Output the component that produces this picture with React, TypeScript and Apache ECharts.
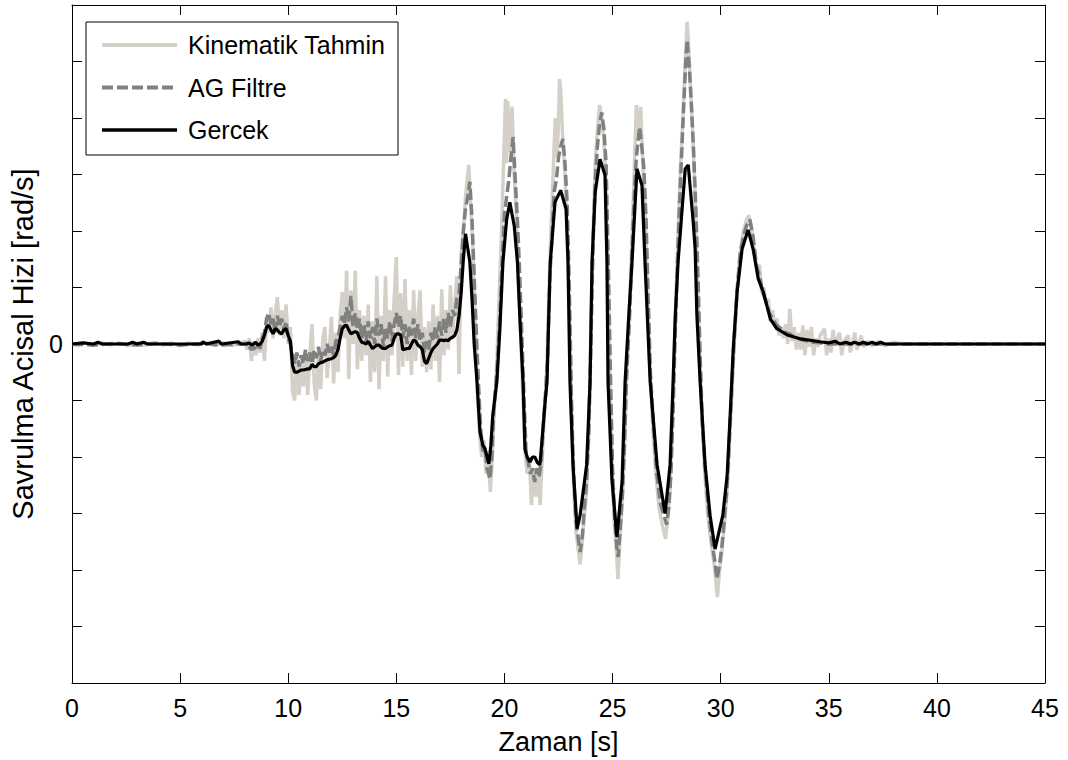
import React, { useEffect, useRef } from "react";
import * as echarts from "echarts";

// ---- Data ----
const xTicks = [0, 5, 10, 15, 20, 25, 30, 35, 40, 45];
const seriesNames = ["Kinematik Tahmin", "AG Filtre", "Gercek"];
const seriesColors = ["#d4d0c8", "#808080", "#000000"];

// sampling grid for the noisy 8..18 s segment (0.1 s step)
const noiseStart = 8.0;
const noiseStep = 0.1;

// Gercek (true) signal
const gercekEarly: [number, number][] = [
  [0, 0], [0.5, 0.02], [1.0, 0], [1.2, 0.03], [1.4, 0], [2.6, 0], [2.8, 0.03], [3.0, 0],
  [3.3, 0.03], [3.5, 0], [6.0, 0], [6.05, 0.04], [6.2, 0], [6.8, 0.05], [6.9, 0], [7.7, 0.04], [7.8, 0],
];
const gercekNoise: number[] = [
  0, 0, 0.02, -0.02, 0, 0.03, -0.02, 0, 0.05, 0.15,
  0.3, 0.33, 0.25, 0.18, 0.27, 0.25, 0.2, 0.18, 0.25, 0.27,
  0.15, 0.05, -0.38, -0.5, -0.5, -0.48, -0.46, -0.46, -0.45, -0.44,
  -0.44, -0.36, -0.4, -0.4, -0.35, -0.33, -0.32, -0.3, -0.28, -0.27,
  -0.26, -0.24, -0.2, -0.1, 0.1, 0.27, 0.32, 0.33, 0.25, 0.18,
  0.2, 0.22, 0.2, 0.1, 0.03, 0.02, 0, 0.05, -0.02, -0.08,
  -0.05, -0.02, -0.02, -0.06, -0.08, -0.08, -0.05, -0.03, -0.02, 0.1,
  0.18, 0.18, 0.16, -0.1, -0.09, -0.08, -0.08, 0, 0.07, 0.05,
  -0.02, -0.05, -0.1, -0.3, -0.35, -0.25, -0.15, -0.08, -0.04, 0,
  0.07, 0.07, 0.06, 0.07, 0.06, 0.1, 0.12, 0.15, 0.25, 0.5,
  0.92,
];
const gercekLate: [number, number][] = [
  [18.1, 1.5], [18.2, 1.95], [18.3, 1.7], [18.4, 1.45], [18.5, 0.8], [18.6, 0.0], [18.73, -0.67],
  [18.87, -1.56], [19.0, -1.79], [19.1, -1.85], [19.2, -2.0], [19.28, -2.12], [19.37, -1.8],
  [19.46, -1.26], [19.65, -0.67], [19.78, 0.2], [19.93, 1.45], [20.1, 2.2], [20.25, 2.51],
  [20.35, 2.3], [20.45, 2.1], [20.6, 1.45], [20.72, 0.4], [20.86, -0.67], [20.95, -1.86],
  [21.05, -2.0], [21.18, -2.09], [21.3, -2.0], [21.41, -2.0], [21.52, -2.1], [21.64, -2.14],
  [21.76, -1.6], [21.88, -1.03], [21.97, -0.67], [22.05, 0.5], [22.12, 1.45], [22.34, 2.51],
  [22.6, 2.72], [22.85, 2.39], [22.94, 1.45], [23.03, -0.67], [23.17, -2.14], [23.36, -3.27],
  [23.5, -3.03], [23.8, -2.14], [23.96, -0.67], [24.05, 1.45], [24.2, 2.69], [24.42, 3.27],
  [24.65, 2.99], [24.74, 1.45], [24.79, -0.67], [24.97, -2.39], [25.2, -3.42], [25.44, -2.44],
  [25.58, -0.67], [25.75, 0.5], [25.9, 1.45], [26.13, 3.1], [26.36, 2.81], [26.5, 1.45],
  [26.74, -0.67], [27.06, -2.14], [27.43, -3.0], [27.66, -2.14], [27.8, -0.67], [27.9, 0.5],
  [28.03, 1.45], [28.36, 3.1], [28.5, 3.17], [28.73, 2.16], [28.82, 1.68], [28.9, 0.51],
  [29.05, -0.67], [29.28, -2.14], [29.51, -3.03], [29.74, -3.63], [30.1, -3.03], [30.3, -2.32],
  [30.44, -1.26], [30.58, -0.09], [30.76, 0.92], [30.99, 1.68], [31.27, 2.02], [31.5, 1.68],
  [31.74, 1.15], [31.97, 0.92], [32.3, 0.44], [32.6, 0.27], [33.08, 0.16], [33.7, 0.09],
  [34.6, 0.04], [35.0, 0.02], [35.3, 0.05], [35.5, 0], [35.8, 0.03], [36.0, 0], [36.2, 0.03],
  [36.4, 0], [36.6, 0.03], [36.8, 0], [37.0, 0.03], [37.2, 0], [37.4, 0.03], [37.6, 0],
  [38.5, 0], [45, 0],
];

// AG Filtre
const agEarly: [number, number][] = [
  [0, 0], [1, -0.02], [2, 0.01], [3, -0.02], [4, 0.01], [5, -0.02], [6, 0.01], [7, -0.02], [7.5, 0],
];
const agNoise: number[] = [
  0, 0.02, -0.05, -0.1, -0.05, -0.12, -0.03, -0.08, 0.1, 0.2,
  0.45, 0.55, 0.35, 0.45, 0.2, 0.5, 0.3, 0.45, 0.25, 0.4,
  0.1, 0, -0.2, -0.35, -0.15, -0.4, -0.2, -0.35, -0.1, -0.3,
  -0.15, -0.35, -0.1, -0.25, -0.05, -0.3, -0.1, -0.2, 0, -0.15,
  -0.05, -0.2, 0.05, 0.1, 0.3, 0.5, 0.35, 0.65, 0.4, 0.85,
  0.3, 0.55, 0.25, 0.45, 0.1, 0.35, 0.05, 0.4, 0.1, 0.3,
  0, 0.45, 0.15, 0.35, -0.05, 0.3, 0.1, 0.4, 0.05, 0.35,
  0.55, 0.3, 0.5, 0.1, 0.35, 0, 0.3, 0.15, 0.45, 0.1,
  0.35, 0.05, 0.2, -0.15, 0.05, -0.1, 0.2, 0.05, 0.3, 0.1,
  0.4, 0.15, 0.45, 0.2, 0.55, 0.3, 0.6, 0.5, 0.8, 0.9,
  1.4,
];
const agLate: [number, number][] = [
  [18.1, 2.0], [18.2, 2.4], [18.3, 2.6], [18.4, 2.87], [18.5, 2.2], [18.6, 1.2], [18.7, 0.2],
  [18.8, -0.7], [18.9, -1.5], [19.0, -1.9], [19.1, -1.85], [19.2, -2.2], [19.33, -2.39],
  [19.42, -2.0], [19.5, -1.2], [19.65, -0.5], [19.78, 0.4], [19.9, 1.5], [20.0, 2.3],
  [20.1, 2.6], [20.2, 2.9], [20.3, 3.3], [20.4, 3.66], [20.5, 2.9], [20.6, 2.2], [20.7, 1.3],
  [20.8, 0.2], [20.9, -0.9], [21.0, -1.9], [21.1, -2.1], [21.2, -2.3], [21.3, -2.2],
  [21.4, -2.44], [21.5, -2.2], [21.6, -2.35], [21.7, -2.1], [21.8, -1.4], [21.9, -0.9],
  [22.0, -0.2], [22.1, 1.2], [22.2, 1.9], [22.3, 2.7], [22.4, 2.9], [22.5, 3.3], [22.6, 3.5],
  [22.7, 3.63], [22.8, 3.2], [22.9, 2.5], [23.0, 1.0], [23.1, -1.0], [23.2, -2.3], [23.3, -3.1],
  [23.4, -3.4], [23.5, -3.68], [23.6, -3.4], [23.7, -2.9], [23.8, -2.4], [23.9, -1.6],
  [24.0, 0.0], [24.1, 1.8], [24.2, 2.9], [24.3, 3.5], [24.4, 3.9], [24.5, 4.1], [24.6, 3.8],
  [24.7, 3.2], [24.8, 1.5], [24.9, -0.5], [25.0, -2.2], [25.1, -3.1], [25.2, -3.6],
  [25.26, -3.77], [25.35, -3.3], [25.45, -2.7], [25.55, -1.8], [25.65, -0.6], [25.8, 0.6],
  [25.9, 1.6], [26.0, 2.6], [26.1, 3.3], [26.25, 3.84], [26.35, 3.5], [26.45, 3.1],
  [26.55, 2.2], [26.65, 0.8], [26.75, -0.5], [26.9, -1.5], [27.05, -2.3], [27.2, -2.8],
  [27.35, -3.0], [27.5, -3.2], [27.6, -2.9], [27.7, -2.3], [27.8, -1.2], [27.9, 0.2],
  [28.0, 1.4], [28.1, 2.5], [28.2, 3.4], [28.3, 4.3], [28.4, 5.1], [28.45, 5.38], [28.55, 4.9],
  [28.65, 4.2], [28.75, 3.4], [28.85, 2.4], [28.95, 1.2], [29.05, -0.2], [29.15, -1.4],
  [29.3, -2.3], [29.45, -3.0], [29.6, -3.5], [29.75, -3.9], [29.83, -4.16], [29.95, -3.9],
  [30.05, -3.6], [30.15, -3.2], [30.3, -2.5], [30.45, -1.3], [30.6, -0.1], [30.75, 0.9],
  [30.9, 1.6], [31.05, 1.9], [31.2, 2.1], [31.35, 2.2], [31.5, 1.9], [31.65, 1.4], [31.8, 1.2],
  [31.95, 0.9], [32.1, 0.75], [32.25, 0.55], [32.4, 0.45], [32.55, 0.35], [32.7, 0.3],
  [32.85, 0.25], [33.0, 0.2], [33.2, 0.18], [33.4, 0.12], [33.6, 0.1], [33.8, 0.07],
  [34.0, 0.05], [34.3, 0.03], [34.6, 0.02], [35, 0], [45, 0],
];

// Kinematik Tahmin
const kinEarly: [number, number][] = [
  [0, 0], [0.3, -0.03], [0.6, 0.02], [1.0, -0.03], [1.4, 0.02], [1.8, -0.02], [2.2, 0.02],
  [2.6, -0.03], [3.0, 0.02], [3.4, -0.02], [3.8, 0.03], [4.2, -0.02], [4.6, 0.02], [5.0, -0.03],
  [5.4, 0.02], [5.8, -0.02], [6.2, 0.03], [6.6, -0.03], [7.0, 0.02], [7.4, -0.03], [7.8, 0.02],
];
const kinNoise: number[] = [
  0.05, -0.1, 0.1, -0.3, 0.05, -0.2, 0.1, -0.15, 0.2, -0.3,
  0.4, 0.2, 0.65, 0.1, 0.55, 0.83, 0.15, 0.6, 0.1, 0.7,
  0, 0.3, -0.85, -1.0, -0.2, -0.9, -0.3, -0.75, -0.1, -0.9,
  -0.2, 0.35, -0.7, -1.0, -0.1, -0.8, 0.1, 0.3, -0.6, -0.1,
  0.48, -0.7, 0.2, -0.5, 0.5, 0.92, 0.1, 1.3, -0.62, 0.95,
  0, 1.3, -0.45, 0.6, -0.3, 0.5, -0.2, 0.7, -0.67, 0.4,
  -0.5, 1.2, -0.8, 0.5, -0.3, 1.2, -0.58, 0.6, -0.2, 0.8,
  1.54, -0.55, 0.9, -0.4, 1.15, -0.3, 0.6, -0.55, 0.95, -0.3,
  0.5, 0.95, -0.4, 0.3, -0.5, 0.4, -0.45, 0.7, -0.3, 0.5,
  -0.67, 0.97, -0.2, 0.6, -0.1, 1.04, 0.1, 0.7, 1.2, -0.53,
  1.6,
];
const kinLate: [number, number][] = [
  [18.1, 2.0], [18.2, 2.6], [18.3, 3.0], [18.35, 3.17], [18.45, 2.4], [18.55, 1.6], [18.65, 0.4],
  [18.75, -0.9], [18.85, -1.6], [18.95, -2.0], [19.05, -1.7], [19.15, -2.3], [19.25, -2.0],
  [19.35, -2.62], [19.45, -1.9], [19.55, -1.0], [19.65, -0.3], [19.75, 0.8], [19.85, 1.8],
  [19.95, 3.1], [20.05, 4.34], [20.1, 3.2], [20.15, 4.3], [20.25, 3.4], [20.35, 4.2],
  [20.45, 3.0], [20.55, 2.3], [20.65, 1.2], [20.75, 0.2], [20.85, -0.9], [20.95, -1.9],
  [21.05, -2.3], [21.15, -2.0], [21.25, -2.85], [21.35, -2.2], [21.45, -2.7], [21.55, -2.3],
  [21.65, -2.85], [21.75, -2.0], [21.85, -1.2], [21.95, -0.5], [22.05, 0.8], [22.15, 2.0],
  [22.25, 3.0], [22.35, 4.0], [22.45, 3.3], [22.55, 4.69], [22.6, 4.5], [22.7, 3.6],
  [22.8, 3.0], [22.9, 2.0], [23.0, 0.5], [23.1, -1.2], [23.2, -2.5], [23.3, -3.3], [23.4, -3.6],
  [23.5, -3.9], [23.6, -3.5], [23.7, -3.0], [23.8, -2.6], [23.9, -1.5], [24.0, 0.3], [24.1, 2.0],
  [24.2, 3.2], [24.3, 3.8], [24.4, 4.23], [24.5, 4.0], [24.6, 3.6], [24.7, 2.8], [24.8, 1.0],
  [24.9, -1.0], [25.0, -2.5], [25.1, -3.3], [25.2, -3.8], [25.25, -4.16], [25.35, -3.4],
  [25.45, -2.8], [25.55, -1.9], [25.65, -0.5], [25.8, 0.8], [25.9, 1.9], [26.0, 3.0],
  [26.1, 4.23], [26.2, 3.6], [26.3, 4.2], [26.4, 3.2], [26.5, 2.4], [26.6, 1.2], [26.7, -0.2],
  [26.85, -1.4], [27.0, -2.3], [27.15, -2.9], [27.3, -3.2], [27.45, -3.45], [27.55, -3.1],
  [27.65, -2.6], [27.75, -1.6], [27.85, -0.2], [27.95, 1.0], [28.05, 2.2], [28.15, 3.2],
  [28.25, 4.0], [28.35, 4.9], [28.45, 5.7], [28.5, 5.4], [28.6, 4.6], [28.7, 3.8], [28.8, 2.8],
  [28.9, 1.5], [29.0, 0.2], [29.1, -1.0], [29.25, -2.2], [29.4, -3.0], [29.55, -3.5],
  [29.7, -3.9], [29.8, -4.3], [29.85, -4.48], [29.95, -4.0], [30.05, -3.7], [30.15, -3.3],
  [30.3, -2.6], [30.45, -1.4], [30.6, -0.2], [30.75, 0.9], [30.9, 1.6], [31.05, 2.0],
  [31.2, 2.2], [31.3, 2.28], [31.45, 2.0], [31.6, 1.5], [31.7, 1.3], [31.8, 1.4], [31.9, 0.9],
  [32.0, 1.0], [32.1, 0.7], [32.2, 0.8], [32.3, 0.4], [32.4, 0.6], [32.5, 0.3], [32.6, 0.45],
  [32.7, 0.15], [32.8, 0.3], [32.9, 0.1], [33.0, 0.35], [33.1, 0.0], [33.2, 0.62], [33.3, 0.05],
  [33.4, 0.3], [33.5, -0.1], [33.6, 0.2], [33.7, -0.1], [33.8, 0.33], [33.9, -0.2], [34.0, 0.25],
  [34.1, -0.05], [34.2, 0.3], [34.3, -0.2], [34.4, 0.1], [34.5, -0.05], [34.6, 0.15],
  [34.8, 0.27], [34.9, -0.2], [35.0, 0.1], [35.1, -0.15], [35.2, 0.25], [35.3, 0.0], [35.5, 0.2],
  [35.6, -0.2], [35.7, 0.05], [35.9, 0.15], [36.0, -0.15], [36.2, 0.2], [36.3, -0.1],
  [36.5, 0.15], [36.6, -0.05], [36.8, 0.05], [37.0, -0.03], [37.3, 0.05], [37.6, -0.03],
  [38.0, 0.03], [38.5, 0], [45, 0],
];

function assemble(early: [number, number][], noise: number[], late: [number, number][]) {
  const mid: [number, number][] = noise.map((v, i) => [
    Math.round((noiseStart + i * noiseStep) * 100) / 100,
    v,
  ]);
  return [...early, ...mid, ...late];
}

const FONT = "'Liberation Sans', Arial, Helvetica, sans-serif";

export default function App() {
  const ref = useRef<HTMLDivElement>(null);
  useEffect(() => {
    if (!ref.current) return;
    const chart = echarts.init(ref.current, undefined, { renderer: "svg" });

    // hand-drawn legend box (MATLAB style)
    const lgX = 86, lgY = 22, lgW = 312, lgH = 133;
    const rowY = [45, 87.5, 130];
    const legendDashes: (number[] | null)[] = [null, [11, 4], null];
    const legendWidths = [4, 4, 3.5];
    const legendChildren: any[] = [
      {
        type: "rect",
        shape: { x: lgX, y: lgY, width: lgW, height: lgH },
        style: { fill: "#fff", stroke: "#000", lineWidth: 1 },
      },
    ];
    seriesNames.forEach((nm, i) => {
      legendChildren.push({
        type: "line",
        shape: { x1: 102, y1: rowY[i], x2: 177, y2: rowY[i] },
        style: {
          stroke: seriesColors[i],
          lineWidth: legendWidths[i],
          lineDash: legendDashes[i] || undefined,
        },
      });
      legendChildren.push({
        type: "text",
        x: 188,
        y: rowY[i],
        style: {
          text: nm,
          fill: "#000",
          font: `25px ${FONT}`,
          textVerticalAlign: "middle",
          verticalAlign: "middle",
        },
      });
    });

    const boxAxisCommon = {
      axisLine: { show: true, onZero: false, lineStyle: { color: "#000", width: 1 } },
      axisTick: { show: true, inside: true, length: 10, lineStyle: { color: "#000" } },
      splitLine: { show: false },
    };

    chart.setOption({
      animation: false,
      backgroundColor: "#ffffff",
      grid: { left: 72, right: 23, top: 5, bottom: 77, containLabel: false },
      graphic: [{ type: "group", z: 100, children: legendChildren }],
      xAxis: [
        {
          type: "value",
          min: 0,
          max: 45,
          interval: 5,
          name: "Zaman [s]",
          nameLocation: "middle",
          nameGap: 45,
          nameTextStyle: { fontFamily: FONT, fontSize: 27, color: "#000" },
          ...boxAxisCommon,
          axisLabel: {
            fontFamily: FONT,
            fontSize: 25,
            color: "#000",
            margin: 12,
            formatter: (v: number) => (xTicks.includes(v) ? String(v) : ""),
          },
        },
        {
          type: "value",
          position: "top",
          min: 0,
          max: 45,
          interval: 5,
          ...boxAxisCommon,
          axisLabel: { show: false },
        },
      ],
      yAxis: [
        {
          type: "value",
          min: -6,
          max: 6,
          interval: 1,
          name: "Savrulma Acisal Hizi [rad/s]",
          nameLocation: "middle",
          nameGap: 35,
          nameTextStyle: { fontFamily: FONT, fontSize: 29, color: "#000" },
          ...boxAxisCommon,
          axisLabel: {
            fontFamily: FONT,
            fontSize: 25,
            color: "#000",
            margin: 9,
            formatter: (v: number) => (v === 0 ? "0" : ""),
          },
        },
        {
          type: "value",
          position: "right",
          min: -6,
          max: 6,
          interval: 1,
          ...boxAxisCommon,
          axisLabel: { show: false },
        },
      ],
      series: [
        {
          name: seriesNames[0],
          type: "line",
          symbol: "none",
          data: assemble(kinEarly, kinNoise, kinLate),
          lineStyle: { color: seriesColors[0], width: 3.5 },
          itemStyle: { color: seriesColors[0] },
          z: 1,
        },
        {
          name: seriesNames[1],
          type: "line",
          symbol: "none",
          data: assemble(agEarly, agNoise, agLate),
          lineStyle: { color: seriesColors[1], width: 3.5, type: [11, 4] },
          itemStyle: { color: seriesColors[1] },
          z: 2,
        },
        {
          name: seriesNames[2],
          type: "line",
          symbol: "none",
          data: assemble(gercekEarly, gercekNoise, gercekLate),
          lineStyle: { color: seriesColors[2], width: 3.2 },
          itemStyle: { color: seriesColors[2] },
          z: 3,
        },
      ],
    });
    return () => chart.dispose();
  }, []);
  return (
    <div
      ref={ref}
      style={{ position: "absolute", left: 0, top: 0, width: 1068, height: 760, background: "#fff" }}
    />
  );
}
